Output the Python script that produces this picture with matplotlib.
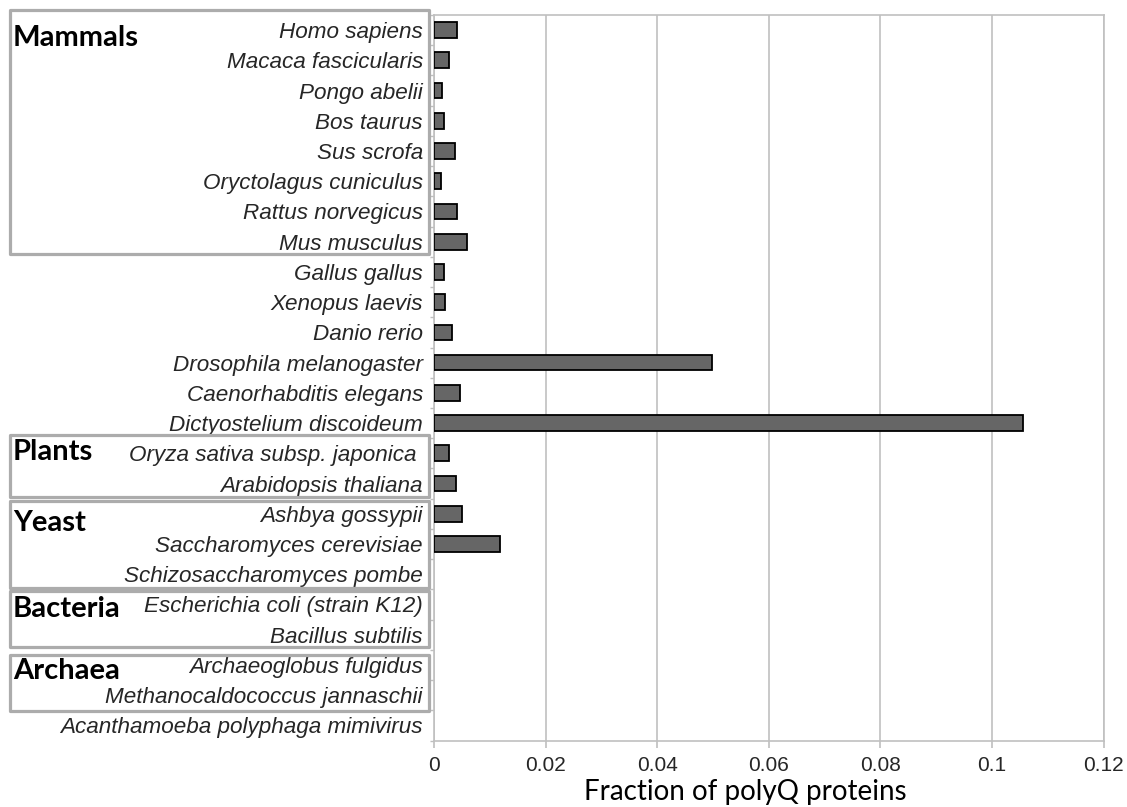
import matplotlib.pyplot as plt
import numpy as np
from matplotlib.patches import Rectangle
from matplotlib.transforms import blended_transform_factory

# species, top to bottom
species = [
    "Homo sapiens", "Macaca fascicularis", "Pongo abelii", "Bos taurus",
    "Sus scrofa", "Oryctolagus cuniculus", "Rattus norvegicus", "Mus musculus",
    "Gallus gallus", "Xenopus laevis", "Danio rerio", "Drosophila melanogaster",
    "Caenorhabditis elegans", "Dictyostelium discoideum",
    "Oryza sativa subsp. japonica ", "Arabidopsis thaliana",
    "Ashbya gossypii", "Saccharomyces cerevisiae", "Schizosaccharomyces pombe",
    "Escherichia coli (strain K12)", "Bacillus subtilis",
    "Archaeoglobus fulgidus", "Methanocaldococcus jannaschii",
    "Acanthamoeba polyphaga mimivirus",
]
fraction = [
    0.0042, 0.0026, 0.0015, 0.0018, 0.0037, 0.0012, 0.0041, 0.0059,
    0.0018, 0.0020, 0.0032, 0.0498, 0.0046, 0.1056,
    0.0026, 0.0039, 0.0050, 0.0118, 0.0,
    0.0, 0.0, 0.0, 0.0, 0.0,
]
xticks = [0, 0.02, 0.04, 0.06, 0.08, 0.1, 0.12]
xticklabels = ["0", "0.02", "0.04", "0.06", "0.08", "0.1", "0.12"]

# groups: name, first row, last row
groups = [("Mammals", 0, 7), ("Plants", 14, 15), ("Yeast", 16, 18),
          ("Bacteria", 19, 20), ("Archaea", 21, 22)]
# box top/bottom pads and label offsets (rows)
box_pads = [(0.67, 0.41), (0.6, 0.43), (0.42, 0.46), (0.43, 0.4), (0.34, 0.51)]
label_off = [0.26, -0.03, 0.32, 0.14, 0.19]

W, H = 1127, 807
fig = plt.figure(figsize=(W / 100, H / 100), dpi=100)
ax = fig.add_axes([434 / W, 1 - 740.5 / H, (1103.7 - 434) / W, (740.5 - 15) / H])

y = np.arange(len(species))
lw = [1.3 if v > 0 else 0 for v in fraction]
ax.barh(y, fraction, height=0.52, color="#666666", edgecolor="black", linewidth=lw, zorder=3)

ax.set_xlim(0, 0.12)
ax.set_ylim(len(species) - 0.5, -0.5)
ax.set_xticks(xticks)
ax.set_xticklabels(xticklabels, fontsize=15, family="Liberation Sans", color="#262626")
ax.set_yticks(y)
ax.set_yticklabels(species, fontsize=16.2, family="Liberation Sans", style="italic", color="#262626")
ax.set_yticks(np.arange(len(species) + 1) - 0.5, minor=True)
ax.tick_params(axis="y", which="major", length=0, pad=8)
ax.tick_params(axis="y", which="minor", length=3, color="#bfbfbf", width=1)
ax.tick_params(axis="x", which="major", length=5, color="#bfbfbf", width=1.2, pad=6)

ax.grid(axis="x", color="#c0c0c0", linewidth=1.2, zorder=0)
for s in ax.spines.values():
    s.set_color("#c0c0c0")
    s.set_linewidth(1.2)

fig.text(745 / W, 1 - 792 / H, "Fraction of polyQ proteins", fontsize=20,
         family="Lato", ha="center", va="center")

# group boxes and labels
tr = blended_transform_factory(fig.transFigure, ax.transData)
for (name, first, last), (pt, pb), off in zip(groups, box_pads, label_off):
    top = first - pt
    bottom = last + pb
    rect = Rectangle((9.5 / W, top), (429 - 9.5) / W, bottom - top, transform=tr,
                     fill=False, edgecolor="#acacac", linewidth=2.3,
                     joinstyle="round", clip_on=False)
    fig.add_artist(rect)
    fig.text(13 / W, first + off, name, transform=tr, fontsize=21, family="Lato",
             weight="bold", ha="left", va="center")

fig.savefig("out.png", dpi=100)
